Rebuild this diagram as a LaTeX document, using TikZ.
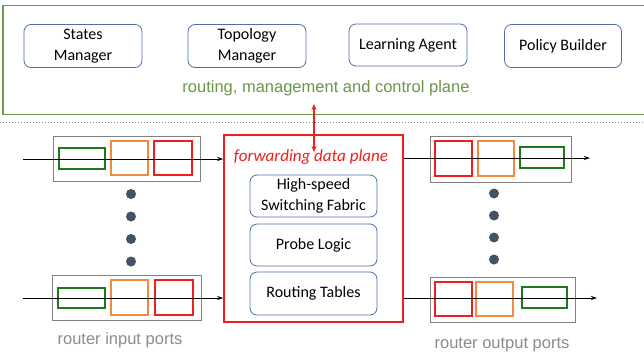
\documentclass[tikz,border=0pt]{standalone}
\usepackage{fontspec}
\setmainfont{Carlito}
\newfontfamily\arialf{Liberation Sans}
\usetikzlibrary{arrows.meta}
\definecolor{ctlgreen}{RGB}{108,150,74}
\definecolor{boxblue}{RGB}{80,110,170}
\definecolor{dotcol}{RGB}{68,82,102}
\definecolor{portgray}{RGB}{128,128,128}
\definecolor{labgray}{RGB}{140,140,140}
\definecolor{pgreen}{RGB}{30,120,30}
\definecolor{porange}{RGB}{240,140,60}
\definecolor{pred}{RGB}{240,30,30}
\tikzset{
  module/.style={draw=boxblue, line width=0.8pt, rounded corners=7pt, align=center,
    font=\fontsize{16}{20.5}\selectfont, inner sep=0pt},
  portbox/.style={draw=portgray, line width=1pt, inner sep=0pt},
  slot/.style={line width=1.5pt, inner sep=0pt},
  dot/.style={circle, fill=dotcol, inner sep=0pt, minimum size=10pt},
  flow/.style={line width=1pt, -{Stealth[length=6pt,width=4pt]}},
  lbl/.style={font=\arialf\fontsize{16.5}{19}\selectfont}
}
\begin{document}
\begin{tikzpicture}[x=1pt,y=-1pt]
\useasboundingbox (0,0) rectangle (644,356);
\fill[white] (0,0) rectangle (644,356);
% control plane
\node[draw=ctlgreen, line width=1.5pt, minimum width=646pt, minimum height=109pt, inner sep=0pt] (ctl) at (326,60) {};
\node[module, minimum width=118pt, minimum height=43pt] (sm) at (83,46) {States\\Manager};
\node[module, minimum width=118pt, minimum height=43pt] (tm) at (247,46) {Topology\\Manager};
\node[module, minimum width=118pt, minimum height=42pt] (la) at (408,45) {Learning Agent};
\node[module, minimum width=117pt, minimum height=43pt] (pb) at (563,46) {Policy Builder};
\node[lbl, text=ctlgreen] (ctltxt) at (326,88) {routing, management and control plane};
% separator
\draw[labgray, dotted, line width=1pt] (0,122) coordinate (sepl) -- (644,122) coordinate (sepr);
% forwarding plane
\node[draw=pred, line width=1.5pt, minimum width=179pt, minimum height=187pt, inner sep=0pt] (fwd) at (313.5,228.5) {};
\node[text=pred, font=\itshape\fontsize{17}{20}\selectfont] (fwdtxt) at (311,157) {forwarding data plane};
\node[module, minimum width=127pt, minimum height=42pt] (hs) at (313.5,196) {High-speed\\Switching Fabric};
\node[module, minimum width=127pt, minimum height=42pt] (pl) at (313.5,245) {Probe Logic};
\node[module, minimum width=127pt, minimum height=43pt] (rt) at (313.5,293.5) {Routing Tables};
\coordinate (ua) at (314,104);
\coordinate (da) at (314,152);
\draw[pred, line width=1.5pt, {Stealth[length=6pt,width=5pt]}-{Stealth[length=6pt,width=5pt]}] (ua) -- (da);
% input ports top
\node[portbox, minimum width=147pt, minimum height=45pt] (ip1) at (126.5,158.5) {};
\node[slot, draw=pgreen, minimum width=46pt, minimum height=21pt] (ip1g) at (82,158.5) {};
\node[slot, draw=porange, minimum width=37pt, minimum height=34pt] (ip1o) at (129.5,158) {};
\node[slot, draw=pred, minimum width=38pt, minimum height=34pt] (ip1r) at (173,158) {};
% input ports bottom
\node[portbox, minimum width=149pt, minimum height=45pt] (ip2) at (126.5,297.5) {};
\node[slot, draw=pgreen, minimum width=47pt, minimum height=20pt] (ip2g) at (81.5,298) {};
\node[slot, draw=porange, minimum width=37pt, minimum height=35pt] (ip2o) at (129.5,297.5) {};
\node[slot, draw=pred, minimum width=38pt, minimum height=35pt] (ip2r) at (174,297.5) {};
% output ports top
\node[portbox, minimum width=141pt, minimum height=46pt] (op1) at (500.5,159) {};
\node[slot, draw=pred, minimum width=37pt, minimum height=35pt] (op1r) at (453.5,158.5) {};
\node[slot, draw=porange, minimum width=36pt, minimum height=35pt] (op1o) at (496,158.5) {};
\node[slot, draw=pgreen, minimum width=44pt, minimum height=21pt] (op1g) at (542,157.5) {};
% output ports bottom
\node[portbox, minimum width=145pt, minimum height=45pt] (op2) at (502.5,299.5) {};
\node[slot, draw=pred, minimum width=37pt, minimum height=34pt] (op2r) at (453.5,299) {};
\node[slot, draw=porange, minimum width=37pt, minimum height=34pt] (op2o) at (494.5,299) {};
\node[slot, draw=pgreen, minimum width=45pt, minimum height=21pt] (op2g) at (544.5,297.5) {};
% flows
\coordinate (in1) at (23,159);
\coordinate (in2) at (23,298);
\coordinate (out1) at (590,158);
\coordinate (out2) at (597,298);
\draw[flow] (in1) -- (fwd.west |- in1);
\draw[flow] (in2) -- (fwd.west |- in2);
\draw[flow] (fwd.east |- out1) -- (out1);
\draw[flow] (fwd.east |- out2) -- (out2);
% dots
\node[dot] (di1) at (131,194) {};
\node[dot] (di2) at (131,216.5) {};
\node[dot] (di3) at (131,239) {};
\node[dot] (di4) at (131,261.5) {};
\node[dot] (do1) at (494,193.5) {};
\node[dot] (do2) at (494,215.5) {};
\node[dot] (do3) at (494,237.5) {};
\node[dot] (do4) at (494,259.5) {};
% labels
\node[lbl, text=labgray] (inl) at (120,340) {router input ports};
\node[lbl, text=labgray] (outl) at (502,345) {router output ports};
\end{tikzpicture}
\end{document}
